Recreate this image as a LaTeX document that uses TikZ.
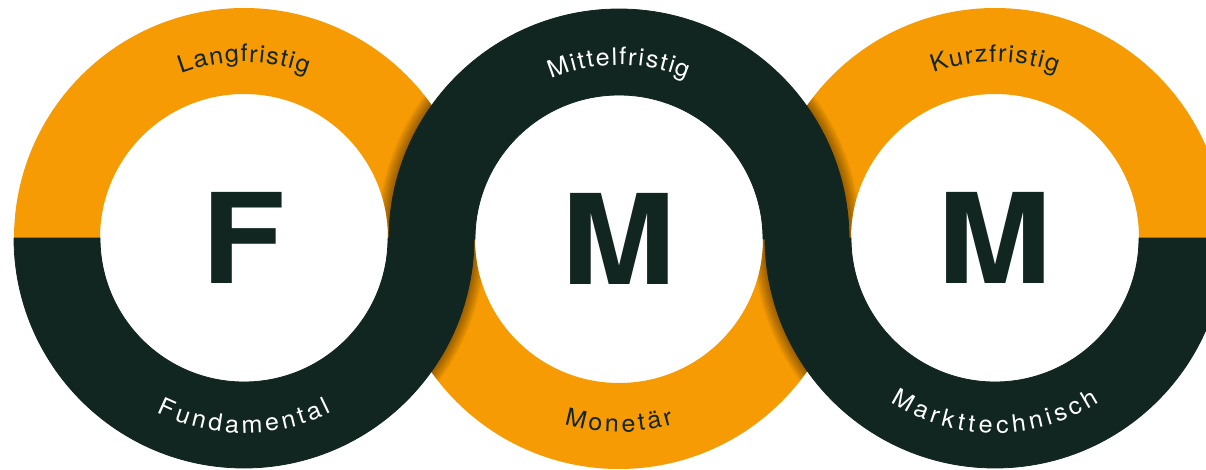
\documentclass[tikz,border=0pt]{standalone}
\usepackage{fontspec}
\setmainfont{TeX Gyre Heros}
\newfontfamily\letterfont[FakeStretch=1.1]{TeX Gyre Heros}
\newfontfamily\labelfont[FakeStretch=1.05]{TeX Gyre Heros}
\usetikzlibrary{calc, decorations.text}

\definecolor{fmmorange}{RGB}{246,155,3}
\definecolor{fmmdark}{RGB}{17,38,32}

\newcommand{\ringfont}{\labelfont\fontsize{24pt}{26pt}\selectfont}
\newcommand{\tophalf}[1]{($(#1)+(230,0)$) arc[start angle=0, end angle=180, radius=230] -- ++(86,0) arc[start angle=180, end angle=0, radius=144] -- cycle}
\newcommand{\bottomhalf}[1]{($(#1)+(230,0)$) arc[start angle=0, end angle=-180, radius=230] -- ++(86,0) arc[start angle=-180, end angle=0, radius=144] -- cycle}

\tikzset{
  bigletter/.style={text=fmmdark, font=\letterfont\fontsize{125pt}{125pt}\selectfont\bfseries},
  ringshadow/.style={black, opacity=0.035, line width=#1 pt},
}

\begin{document}
\begin{tikzpicture}[x=1pt, y=1pt]
        \useasboundingbox (0,0) rectangle (1206,469);
        \coordinate (L) at (244,231);
        \coordinate (M) at (619,230);
        \coordinate (R) at (995,231);

        % orange halves lie underneath
        \fill[fmmorange] \tophalf{L} \tophalf{R} \bottomhalf{M};

        % shadows of the dark halves on the orange
        \begin{scope}
            \clip \tophalf{L} \tophalf{R};
            \foreach \w in {2,4,...,24}
                \draw[ringshadow=\w] (M) circle[radius=230];
        \end{scope}
        \begin{scope}
            \clip \bottomhalf{M};
            \foreach \w in {2,4,...,24} {
                \draw[ringshadow=\w] (L) circle[radius=230];
                \draw[ringshadow=\w] (R) circle[radius=230];
            }
        \end{scope}

        % dark halves on top
        \filldraw[fmmdark, line width=0.8pt] \bottomhalf{L} \bottomhalf{R} \tophalf{M};

        \node[bigletter] (f)  at (L) {F};
        \node[bigletter] (m1) at (M) {M};
        \node[bigletter] (m2) at (R) {M};

        % labels along the rings
        \path[decorate, decoration={text along path, text={|\ringfont|Langfristig},
            text align={fit to path}, text color=fmmdark}]
            ($(L)+(111:176)$) arc[start angle=111, end angle=69, radius=176];
        \path[decorate, decoration={text along path, text={|\ringfont|Fundamental},
            text align={fit to path}, text color=white}]
            ($(L)+(243.5:195)$) arc[start angle=243.5, end angle=296.5, radius=195];
        \path[decorate, decoration={text along path, text={|\ringfont|Mittelfristig},
            text align={fit to path}, text color=white}]
            ($(M)+(113:174)$) arc[start angle=113, end angle=67, radius=174];
        \path[decorate, decoration={text along path, text={|\ringfont|Monetär},
            text align={fit to path}, text color=fmmdark}]
            ($(M)+(253.5:193)$) arc[start angle=253.5, end angle=286.5, radius=193];
        \path[decorate, decoration={text along path, text={|\ringfont|Kurzfristig},
            text align={fit to path}, text color=fmmdark}]
            ($(R)+(110.5:176)$) arc[start angle=110.5, end angle=69.5, radius=176];
        \path[decorate, decoration={text along path, text={|\ringfont|Markttechnisch},
            text align={fit to path}, text color=white}]
            ($(R)+(237.5:195)$) arc[start angle=237.5, end angle=302.5, radius=195];
\end{tikzpicture}
\end{document}
